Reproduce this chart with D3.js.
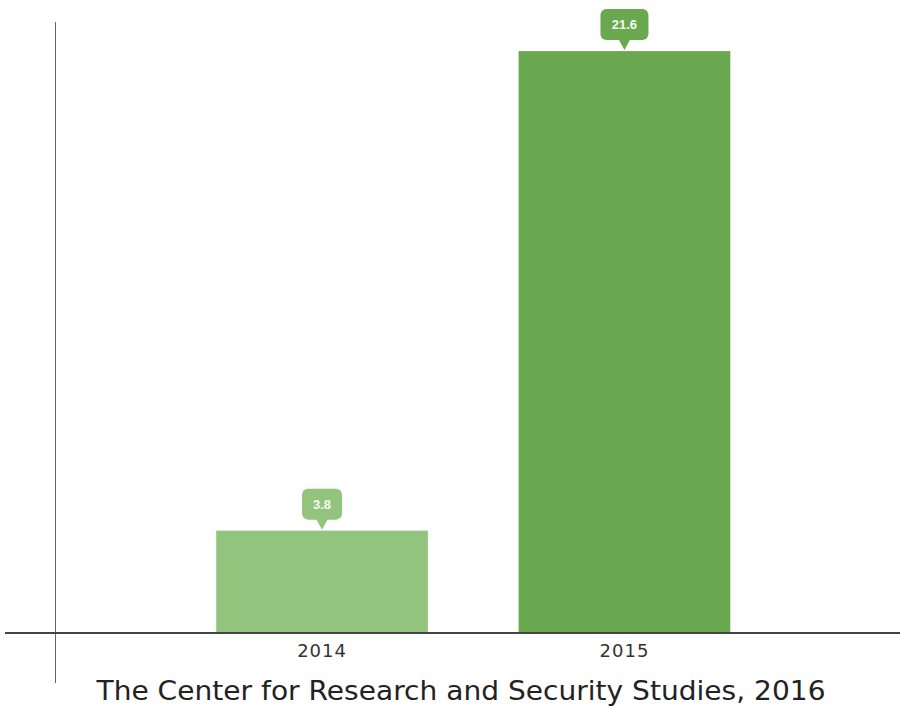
<!DOCTYPE html>
<html>
<head>
<meta charset="utf-8">
<script src="https://cdn.jsdelivr.net/npm/d3@7"></script>
<style>
  html, body { margin: 0; padding: 0; background: #fff; }
  svg { display: block; }
</style>
</head>
<body>
<svg id="chart" width="900" height="706"></svg>
<script>
// Chart data
const years = ["2014", "2015"];
const values = [3.8, 21.6];
const barColors = ["#93c47d", "#6aa84f"];
const sourceNote = "The Center for Research and Security Studies, 2016";

const svg = d3.select("#chart");
const W = 900;
const baseY = 633;

const x = d3.scaleBand()
  .domain(years)
  .range([65, 881.5])
  .paddingInner(0.3)
  .paddingOuter(0.5);

const y = d3.scaleLinear()
  .domain([0, 23])
  .range([baseY, baseY - 23 * 26.94]);

// Vertical axis line
svg.append("line")
  .attr("x1", 55.5).attr("x2", 55.5)
  .attr("y1", 22).attr("y2", 683)
  .attr("stroke", "#666").attr("stroke-width", 1);

// Bars
svg.selectAll("rect.bar")
  .data(values)
  .join("rect")
  .attr("class", "bar")
  .attr("x", (d, i) => x(years[i]))
  .attr("width", x.bandwidth())
  .attr("y", d => y(d))
  .attr("height", d => y(0) - y(d))
  .attr("fill", (d, i) => barColors[i]);

// Horizontal axis
const xAxis = d3.axisBottom(x).tickSize(0).tickPadding(11);
const gx = svg.append("g")
  .attr("transform", `translate(0,${baseY})`)
  .call(xAxis);
gx.select(".domain").remove();
gx.selectAll("text")
  .attr("font-family", "'DejaVu Sans', sans-serif")
  .attr("font-size", 18)
  .attr("letter-spacing", "1px")
  .attr("fill", "#333");
svg.append("line")
  .attr("x1", 5).attr("x2", W)
  .attr("y1", baseY).attr("y2", baseY)
  .attr("stroke", "#444").attr("stroke-width", 2);

// Value callouts
const callouts = svg.selectAll("g.callout")
  .data(values)
  .join("g")
  .attr("class", "callout")
  .attr("transform", (d, i) => `translate(${x(years[i]) + x.bandwidth() / 2},${y(d)})`);

callouts.each(function (d, i) {
  const g = d3.select(this);
  const label = d3.format(".1f")(d);
  const w = label.length > 3 ? 48 : 40;
  const h = 31;
  const bottom = -11;
  g.append("rect")
    .attr("x", -w / 2).attr("y", bottom - h)
    .attr("width", w).attr("height", h)
    .attr("rx", 6)
    .attr("fill", barColors[i]);
  g.append("path")
    .attr("d", `M-6,${bottom - 1} L6,${bottom - 1} L0,-1 Z`)
    .attr("fill", barColors[i]);
  g.append("text")
    .attr("x", 0).attr("y", bottom - h / 2)
    .attr("dy", "0.35em")
    .attr("text-anchor", "middle")
    .attr("font-family", "'Liberation Sans', Arial, sans-serif")
    .attr("font-weight", "bold")
    .attr("font-size", 13)
    .attr("fill", "#f4f9f1")
    .text(label);
});

// Source note
svg.append("text")
  .attr("x", 461).attr("y", 700)
  .attr("text-anchor", "middle")
  .attr("font-family", "'DejaVu Sans', sans-serif")
  .attr("font-size", 26)
  .attr("textLength", 729)
  .attr("lengthAdjust", "spacingAndGlyphs")
  .attr("fill", "#222")
  .text(sourceNote);
</script>
</body>
</html>
